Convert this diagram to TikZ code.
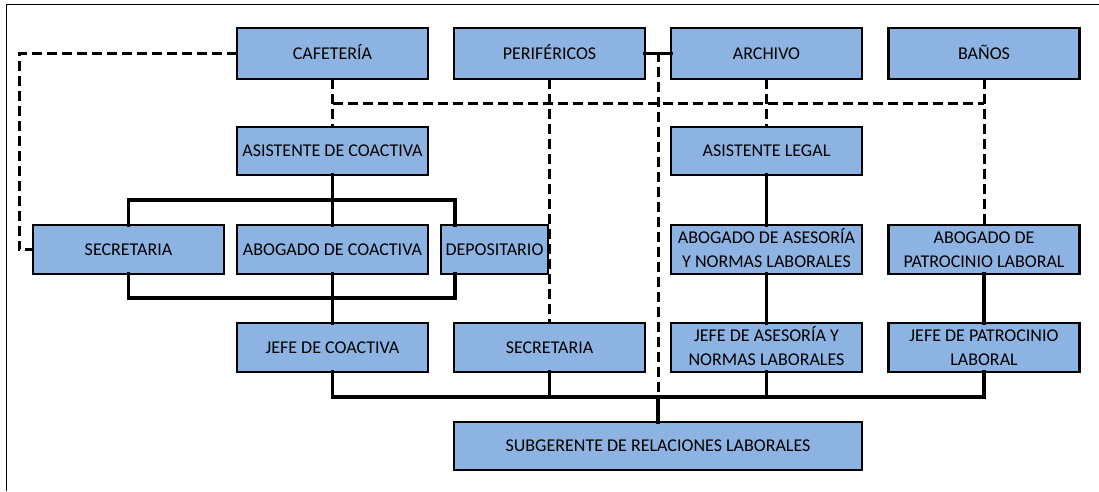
\documentclass[tikz,border=0pt]{standalone}
\usepackage{fontspec}
\setmainfont{Carlito}
\usetikzlibrary{calc}
\definecolor{boxblue}{HTML}{8DB3E2}
\tikzset{
  box/.style={draw=black, line width=2.3pt, fill=boxblue, inner sep=0pt, outer sep=0pt,
    align=center, font=\fontsize{18}{24}\selectfont, text=black},
  oneline/.style={text height=11.6pt, text depth=0pt},
  twoline/.style={text height=35.6pt, text depth=0pt},
  solidline/.style={line width=3.6pt, line cap=rect},
  dashline/.style={line width=3pt, dash pattern=on 10pt off 5pt},
  frameline/.style={line width=1.8pt}
}
\begin{document}
\begin{tikzpicture}[x=1pt,y=-1pt]
\useasboundingbox (0,0) rectangle (1099,491);
\draw[frameline] (6.5,491) -- (6.5,4.5) -- (1099,4.5);

% row 1
\node[box, oneline, minimum width=191pt, minimum height=51pt] (caf) at (332.5,53.5) {CAFETERÍA};
\node[box, oneline, minimum width=191pt, minimum height=51pt] (per) at (549.5,53.5) {PERIFÉRICOS};
\node[box, oneline, minimum width=191pt, minimum height=51pt] (arc) at (766.5,53.5) {ARCHIVO};
\node[box, oneline, minimum width=191pt, minimum height=51pt] (ban) at (984,53.5) {BAÑOS};
% row 2
\node[box, oneline, minimum width=191pt, minimum height=48pt] (asc) at (332.5,151) {ASISTENTE DE COACTIVA};
\node[box, oneline, minimum width=191pt, minimum height=48pt] (asl) at (766.5,151) {ASISTENTE LEGAL};
% row 3
\node[box, oneline, minimum width=191pt, minimum height=49pt] (sec1) at (128.5,249.5) {SECRETARIA};
\node[box, oneline, minimum width=191pt, minimum height=49pt] (abc) at (332.5,249.5) {ABOGADO DE COACTIVA};
\node[box, oneline, minimum width=107pt, minimum height=49pt] (dep) at (494.5,249.5) {DEPOSITARIO};
\node[box, twoline, minimum width=191pt, minimum height=49pt] (aba) at (766.5,249.5) {ABOGADO DE ASESORÍA\\Y NORMAS LABORALES};
\node[box, twoline, minimum width=191pt, minimum height=49pt] (abp) at (984,249.5) {ABOGADO DE\\PATROCINIO LABORAL};
% row 4
\node[box, oneline, minimum width=191pt, minimum height=49pt] (jco) at (332.5,347.5) {JEFE DE COACTIVA};
\node[box, oneline, minimum width=191pt, minimum height=49pt] (sec2) at (549.5,347.5) {SECRETARIA};
\node[box, twoline, minimum width=191pt, minimum height=49pt] (jas) at (766.5,347.5) {JEFE DE ASESORÍA Y\\NORMAS LABORALES};
\node[box, twoline, minimum width=191pt, minimum height=49pt] (jpa) at (984,347.5) {JEFE DE PATROCINIO\\LABORAL};
% row 5
\node[box, oneline, minimum width=408pt, minimum height=48pt] (sub) at (658,446) {SUBGERENTE DE RELACIONES LABORALES};

% junction coordinates
\coordinate (busA) at (332.5,200);
\coordinate (busB) at (332.5,298);
\coordinate (depT) at ($(dep.north west)+(14pt,0)$);
\coordinate (depB) at ($(dep.south west)+(14pt,0)$);
\coordinate (busC) at (332.5,397);
\coordinate (mid) at ($(per.east)!0.5!(arc.west)$);
\coordinate (lc) at (19,53.5);
\coordinate (dh) at (332.5,103);

% solid connectors
\begin{scope}[solidline]
\draw (asc.south) -- (busA);
\draw (sec1.north) |- (busA) -| (depT);
\draw (busA) -- (abc.north);
\draw (sec1.south) |- (busB) -| (depB);
\draw (abc.south) -- (jco.north);
\draw (jco.south) |- (busC -| jpa.south) -- (jpa.south);
\draw (sec2.south) -- (sec2.south |- busC);
\draw (jas.south) -- (jas.south |- busC);
\draw (sub.north) -- (sub.north |- busC);
\draw (asl.south) -- (aba.north);
\draw (aba.south) -- (jas.north);
\draw (abp.south) -- (jpa.north);
\draw (per.east) -- (arc.west);
\end{scope}

% dashed connectors
\begin{scope}[dashline]
\draw (caf.west) -- (lc) |- (sec1.west);
\draw (caf.south) -- (asc.north);
\draw (dh) -- (dh -| ban.south);
\draw (ban.south) -- (abp.north);
\draw (per.south) -- (sec2.north);
\draw (arc.south) -- (asl.north);
\draw ($(mid)+(0,2pt)$) -- (mid |- busC);
\end{scope}
\end{tikzpicture}
\end{document}
